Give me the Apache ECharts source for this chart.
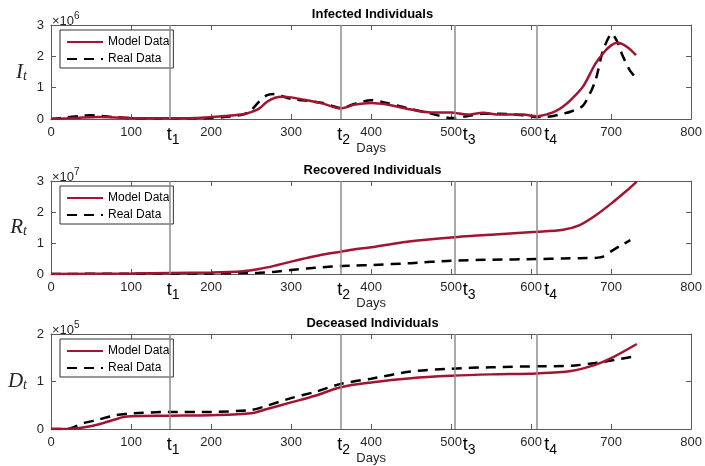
<!DOCTYPE html>
<html>
<head>
<meta charset="utf-8">
<script src="https://cdn.jsdelivr.net/npm/echarts@6/dist/echarts.min.js"></script>
<style>
  html, body { margin: 0; padding: 0; background: #fff; }
  #chart { width: 705px; height: 466px; }
</style>
</head>
<body>
<div id="chart"></div>
<script>
// Infected individuals (units of 10^6)
const infectedModelDays = [0, 20, 40, 60, 80, 100, 120, 150, 180, 200, 220, 240, 250, 260, 270, 280, 290, 300, 320, 340, 362, 380, 400, 420, 450, 475, 500, 520, 540, 560, 590, 607, 620, 630, 640, 650, 665, 680, 690, 700, 708, 720, 731];
const infectedModel = [0.0, 0.02, 0.05, 0.06, 0.05, 0.03, 0.02, 0.02, 0.03, 0.06, 0.1, 0.15, 0.22, 0.33, 0.55, 0.68, 0.71, 0.69, 0.6, 0.49, 0.34, 0.46, 0.51, 0.46, 0.30, 0.21, 0.21, 0.14, 0.2, 0.14, 0.14, 0.09, 0.15, 0.24, 0.4, 0.62, 1.04, 1.75, 2.1, 2.35, 2.43, 2.3, 2.04];
const infectedRealDays = [0, 20, 40, 50, 60, 80, 100, 120, 150, 180, 200, 220, 240, 250, 260, 270, 280, 290, 300, 320, 340, 362, 380, 400, 420, 450, 480, 500, 520, 540, 560, 590, 607, 620, 635, 650, 665, 680, 690, 701, 707, 714, 723, 731];
const infectedReal = [0.0, 0.05, 0.11, 0.12, 0.1, 0.06, 0.03, 0.02, 0.02, 0.02, 0.03, 0.07, 0.14, 0.28, 0.55, 0.76, 0.8, 0.72, 0.64, 0.58, 0.51, 0.35, 0.49, 0.6, 0.51, 0.32, 0.14, 0.03, 0.09, 0.17, 0.17, 0.12, 0.06, 0.07, 0.14, 0.24, 0.43, 1.2, 2.2, 2.72, 2.5, 2.04, 1.57, 1.31];

// Recovered individuals (units of 10^7)
const recoveredModelDays = [0, 100, 200, 240, 260, 280, 300, 320, 340, 362, 380, 400, 450, 500, 550, 607, 640, 660, 680, 700, 720, 732];
const recoveredModel = [0.0, 0.02, 0.05, 0.09, 0.16, 0.27, 0.4, 0.52, 0.63, 0.72, 0.8, 0.86, 1.06, 1.18, 1.27, 1.36, 1.43, 1.57, 1.88, 2.27, 2.7, 2.98];
const recoveredRealDays = [0, 100, 200, 240, 260, 280, 300, 320, 340, 362, 380, 400, 450, 500, 550, 607, 640, 660, 680, 690, 700, 712, 724];
const recoveredReal = [0.0, 0.01, 0.02, 0.03, 0.04, 0.07, 0.13, 0.18, 0.22, 0.26, 0.27, 0.29, 0.35, 0.43, 0.46, 0.48, 0.5, 0.51, 0.52, 0.56, 0.73, 0.92, 1.09];

// Deceased individuals (units of 10^5)
const deceasedModelDays = [0, 20, 30, 40, 60, 80, 90, 100, 150, 200, 250, 270, 300, 330, 362, 400, 450, 500, 550, 607, 650, 680, 700, 732];
const deceasedModel = [0.0, 0.0, 0.01, 0.03, 0.1, 0.2, 0.25, 0.27, 0.28, 0.29, 0.33, 0.42, 0.56, 0.70, 0.88, 0.98, 1.07, 1.12, 1.15, 1.17, 1.22, 1.35, 1.49, 1.79];
const deceasedRealDays = [0, 20, 30, 40, 60, 80, 90, 100, 150, 200, 250, 270, 300, 330, 362, 400, 450, 500, 550, 607, 650, 680, 700, 732];
const deceasedReal = [0.0, 0.0, 0.05, 0.12, 0.2, 0.29, 0.31, 0.33, 0.36, 0.36, 0.4, 0.49, 0.65, 0.78, 0.95, 1.06, 1.21, 1.27, 1.30, 1.32, 1.33, 1.39, 1.44, 1.54];

// Change points t1..t4 (days)
const changeDays = [149, 362, 505, 607];
const changeNames = ['1', '2', '3', '4'];

// Axis ranges and labels
const xTicks = { min: 0, max: 800, interval: 100 };
const panelTitles = ['Infected Individuals', 'Recovered Individuals', 'Deceased Individuals'];
const panelSymbols = ['I', 'R', 'D'];
const panelExponents = ['6', '7', '5'];
const panelYMax = [3, 3, 2];

const MODEL_COLOR = '#A2142F';
const AXIS_COLOR = '#5a5a5a';
const TEXT_COLOR = '#262626';
const FONT = 'Liberation Sans, Arial, sans-serif';

const grids = [
  { left: 51, top: 25, width: 643, height: 94 },
  { left: 51, top: 181, width: 643, height: 93 },
  { left: 51, top: 334, width: 643, height: 95 }
];

const panels = [
  { mDays: infectedModelDays, m: infectedModel, rDays: infectedRealDays, r: infectedReal },
  { mDays: recoveredModelDays, m: recoveredModel, rDays: recoveredRealDays, r: recoveredReal },
  { mDays: deceasedModelDays, m: deceasedModel, rDays: deceasedRealDays, r: deceasedReal }
];

const pairs = (xs, ys) => xs.map((x, i) => [x, ys[i]]);

const xAxes = [], yAxes = [], series = [], legends = [], graphics = [];

grids.forEach((g, i) => {
  const base = {
    type: 'value', gridIndex: i, min: xTicks.min, max: xTicks.max, interval: xTicks.interval,
    splitLine: { show: false },
    axisLine: { show: true, onZero: false, lineStyle: { color: AXIS_COLOR, width: 1 } },
    axisTick: { show: true, inside: true, length: 5, lineStyle: { color: AXIS_COLOR } }
  };
  xAxes.push(Object.assign({}, base, {
    position: 'bottom',
    name: 'Days', nameLocation: 'middle', nameGap: 23,
    nameTextStyle: { fontFamily: FONT, fontSize: 13, color: TEXT_COLOR },
    axisLabel: { margin: 7, fontFamily: FONT, fontSize: 13, color: TEXT_COLOR }
  }));
  xAxes.push(Object.assign({}, base, { position: 'top', axisLabel: { show: false } }));

  const yBase = {
    type: 'value', gridIndex: i, min: 0, max: panelYMax[i], interval: 1,
    splitLine: { show: false },
    axisLine: { show: true, onZero: false, lineStyle: { color: AXIS_COLOR, width: 1 } },
    axisTick: { show: true, inside: true, length: 5, lineStyle: { color: AXIS_COLOR } }
  };
  yAxes.push(Object.assign({}, yBase, {
    position: 'left',
    name: '{v|' + panelSymbols[i] + '}{s|t}', nameLocation: 'middle', nameGap: 24, nameRotate: 0,
    nameTextStyle: {
      rich: {
        v: { fontFamily: 'Liberation Serif, serif', fontStyle: 'italic', fontSize: 21, color: TEXT_COLOR },
        s: { fontFamily: 'Liberation Serif, serif', fontStyle: 'italic', fontSize: 14, color: TEXT_COLOR, padding: [8, 0, 0, 0] }
      }
    },
    axisLabel: { margin: 7, fontFamily: FONT, fontSize: 13, color: TEXT_COLOR }
  }));
  yAxes.push(Object.assign({}, yBase, { position: 'right', axisLabel: { show: false } }));

  const p = panels[i];
  // change-point markers, drawn beneath the curves
  series.push({
    type: 'line', name: 'change points', xAxisIndex: 2 * i, yAxisIndex: 2 * i,
    data: [], z: 1, silent: true,
    markLine: {
      silent: true, symbol: 'none', animation: false,
      lineStyle: { color: '#8c8c8c', width: 1.5, type: 'solid' },
      label: {
        show: true, position: 'start', distance: 4,
        color: '#000', fontFamily: FONT, fontSize: 18,
        rich: { s: { fontFamily: FONT, fontSize: 14, color: '#000', padding: [10, 0, 0, 0] } }
      },
      emphasis: { disabled: true },
      data: changeDays.map((d, k) => ({
        xAxis: d,
        label: { formatter: 't{s|' + changeNames[k] + '}', offset: [k >= 2 ? 14 : 3, 0] }
      }))
    }
  });
  series.push({
    type: 'line', name: 'Model Data', xAxisIndex: 2 * i, yAxisIndex: 2 * i,
    data: pairs(p.mDays, p.m), smooth: 0.3, symbol: 'none', showSymbol: false, z: 3,
    lineStyle: { color: MODEL_COLOR, width: 2.5 }, itemStyle: { color: MODEL_COLOR },
    animation: false
  });
  series.push({
    type: 'line', name: 'Real Data', xAxisIndex: 2 * i, yAxisIndex: 2 * i,
    data: pairs(p.rDays, p.r), smooth: 0.25, symbol: 'none', showSymbol: false, z: 2,
    lineStyle: { color: '#000', width: 2.5, type: [10, 7] }, itemStyle: { color: '#000' },
    animation: false
  });

  legends.push({
    data: ['Model Data', 'Real Data'], orient: 'vertical',
    left: 60, top: g.top + 5,
    itemWidth: 36, itemHeight: 10, itemGap: 5,
    padding: [6, 4, 3, 6],
    borderColor: '#333', borderWidth: 1, backgroundColor: '#fff',
    itemStyle: { opacity: 0 },
    textStyle: { fontFamily: FONT, fontSize: 12, color: '#000' },
    selectedMode: false
  });

  graphics.push({
    type: 'text', x: g.left + g.width / 2, y: g.top - 11,
    style: { text: panelTitles[i], fill: '#000', font: 'bold 13px ' + FONT, textAlign: 'center', textVerticalAlign: 'middle' }
  });
  graphics.push({
    type: 'text', x: g.left + 1, y: g.top - 14,
    style: {
      text: '{b|×10}{e|' + panelExponents[i] + '}',
      textVerticalAlign: 'top',
      rich: {
        b: { font: '13px ' + FONT, fill: TEXT_COLOR, padding: [4, 0, 0, 0] },
        e: { font: '10px ' + FONT, fill: TEXT_COLOR, padding: [0, 0, 6, 0] }
      }
    }
  });
});

const chart = echarts.init(document.getElementById('chart'), null, { renderer: 'canvas' });
chart.setOption({
  animation: false,
  backgroundColor: '#fff',
  grid: grids,
  xAxis: xAxes,
  yAxis: yAxes,
  series: series,
  legend: legends,
  graphic: graphics
});
</script>
</body>
</html>
